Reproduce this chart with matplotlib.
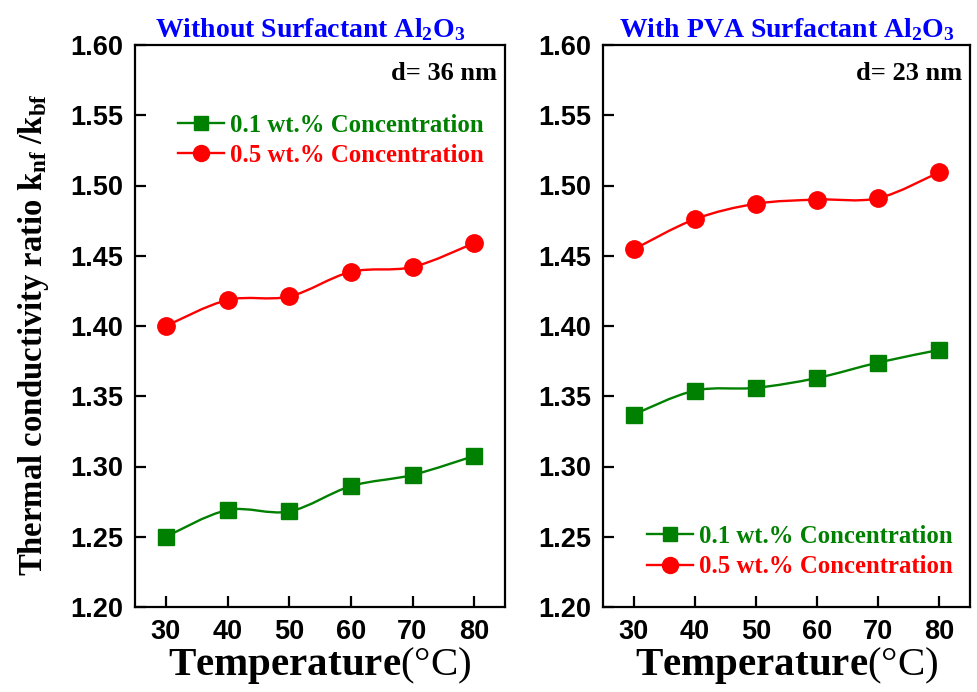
import numpy as np
import matplotlib
matplotlib.use("Agg")
import matplotlib.pyplot as plt
from matplotlib.path import Path
from matplotlib.patches import PathPatch
from matplotlib.lines import Line2D

# ---------------- data ----------------
temps = [30, 40, 50, 60, 70, 80]
left_01 = [1.250, 1.269, 1.268, 1.286, 1.294, 1.3075]
left_05 = [1.400, 1.4185, 1.421, 1.4385, 1.442, 1.459]
right_01 = [1.337, 1.354, 1.356, 1.363, 1.374, 1.383]
right_05 = [1.4545, 1.476, 1.487, 1.490, 1.491, 1.5095]
titles = ["Without Surfactant Al$_\\mathbf{2}$O$_\\mathbf{3}$",
          "With PVA Surfactant Al$_\\mathbf{2}$O$_\\mathbf{3}$"]
sizes = ["d= 36 nm", "d= 23 nm"]
labels = ["0.1 wt.% Concentration", "0.5 wt.% Concentration"]
yticks = [1.20, 1.25, 1.30, 1.35, 1.40, 1.45, 1.50, 1.55, 1.60]
xticks = [30, 40, 50, 60, 70, 80]

GREEN = "#008000"
RED = "#ff0000"
BLUE = "#0000ff"

plt.rcParams["mathtext.fontset"] = "custom"
plt.rcParams["mathtext.rm"] = "Liberation Serif"
plt.rcParams["mathtext.bf"] = "Liberation Serif:bold"
plt.rcParams["mathtext.it"] = "Liberation Serif:bold"
plt.rcParams["mathtext.default"] = "bf"

SERIF = "Liberation Serif"
SANS = "Liberation Sans"

fig = plt.figure(figsize=(9.77, 6.92), dpi=100)
W, H = 977, 692
boxes = [(135, 505), (603, 970)]
top_px, bot_px = 45, 607


def smooth(ax, x, y, color):
    P = np.column_stack([x, y]).astype(float)
    n = len(P)
    verts = [tuple(P[0])]
    codes = [Path.MOVETO]
    for i in range(n - 1):
        p0 = P[i - 1] if i > 0 else P[i]
        p1 = P[i]
        p2 = P[i + 1]
        p3 = P[i + 2] if i + 2 < n else P[i + 1]
        c1 = p1 + (p2 - p0) / 6.0
        c2 = p2 - (p3 - p1) / 6.0
        verts += [tuple(c1), tuple(c2), tuple(p2)]
        codes += [Path.CURVE4] * 3
    ax.add_patch(PathPatch(Path(verts, codes), facecolor="none",
                           edgecolor=color, lw=1.7, zorder=2))


series = [(left_01, left_05), (right_01, right_05)]
legend_pos = [(0.116, 0.878), (0.12, 0.146)]
title_x = [0.473, 0.5]

for k, (x0, x1) in enumerate(boxes):
    ax = fig.add_axes([x0 / W, 1 - bot_px / H, (x1 - x0) / W, (bot_px - top_px) / H])
    s01, s05 = series[k]
    smooth(ax, temps, s01, GREEN)
    smooth(ax, temps, s05, RED)
    ax.plot(temps, s01, "s", color=GREEN, ms=11, zorder=3)
    ax.plot(temps, s05, "o", color=RED, ms=12.5, zorder=3)
    ax.set_xlim(25, 85)
    ax.set_ylim(1.20, 1.60)
    ax.set_xticks(xticks)
    ax.set_yticks(yticks)
    ax.set_yticklabels([f"{v:.2f}" for v in yticks])
    ax.tick_params(direction="in", length=8, width=1.6, top=False, right=False)
    ax.tick_params(axis="y", pad=8.5)
    ax.tick_params(axis="x", pad=8.5)
    for lab in ax.get_xticklabels() + ax.get_yticklabels():
        lab.set_fontfamily(SANS)
        lab.set_fontweight("bold")
        lab.set_fontsize(19.5)
    for sp in ax.spines.values():
        sp.set_linewidth(1.6)
    ax.set_title(titles[k], fontfamily=SERIF, fontweight="bold", fontsize=20,
                 color=BLUE, pad=6, x=title_x[k])
    ax.text(0.978, 0.938, sizes[k], transform=ax.transAxes, ha="right", va="baseline",
            fontfamily=SERIF, fontweight="bold", fontsize=19, color="black")
    ax.set_xlabel("Temperature$\\mathrm{(°C)}$", fontfamily=SERIF, fontweight="bold",
                  fontsize=29.5, labelpad=0)
    handles = [Line2D([], [], color=GREEN, marker="s", ms=10, lw=1.7),
               Line2D([], [], color=RED, marker="o", ms=11.5, lw=1.7)]
    leg = ax.legend(handles, labels, loc="upper left", bbox_to_anchor=legend_pos[k],
                    frameon=False, borderpad=0, borderaxespad=0, handlelength=1.85,
                    handletextpad=0.25, labelspacing=0.3,
                    prop={"family": SERIF, "weight": "bold", "size": 17.8})
    for t, c in zip(leg.get_texts(), [GREEN, RED]):
        t.set_color(c)
    if k == 0:
        ax.set_ylabel("Thermal conductivity ratio k$_{nf}$ /k$_{bf}$", fontfamily=SERIF,
                      fontweight="bold", fontsize=23.5)
        ax.yaxis.set_label_coords(-0.228, 0.484)

fig.savefig("out.png", dpi=100)
